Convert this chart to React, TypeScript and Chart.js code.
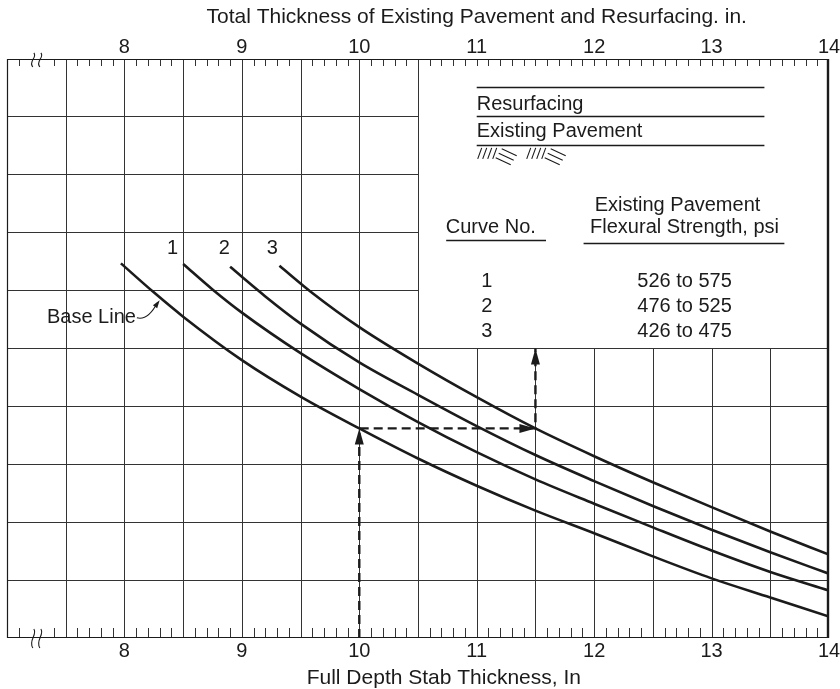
import React, { useEffect, useRef } from 'react';
import { Chart, registerables } from 'chart.js';

Chart.register(...registerables);

// ---------------- data ----------------
const xTickValues = [8, 9, 10, 11, 12, 13, 14];
const xRange = [7, 14];
const yRange = [0, 10];
const gridXValues = [7.5, 8, 8.5, 9, 9.5, 10, 10.5, 11, 11.5, 12, 12.5, 13, 13.5];
const gridYValues = [1, 2, 3, 4, 5, 6, 7, 8, 9];
const minorTickStep = 0.1;
const breakTicks = [7.2, 7.3];
const breakMarkX = [7.22, 7.28];

const baseX = [7.97, 8.25, 8.5, 9, 9.5, 10, 10.5, 11, 11.5, 12, 12.5, 13, 13.5, 14];
const baseY = [6.47, 5.97, 5.55, 4.8, 4.17, 3.62, 3.1, 2.63, 2.2, 1.81, 1.41, 1.03, 0.7, 0.37];

const curve1X = [8.5, 8.75, 9, 9.5, 10, 10.5, 11, 11.5, 12, 12.5, 13, 13.5, 14];
const curve1Y = [6.46, 6.02, 5.62, 4.92, 4.3, 3.73, 3.21, 2.74, 2.32, 1.91, 1.51, 1.14, 0.82];

const curve2X = [8.9, 9.2, 9.5, 10, 10.5, 11, 11.5, 12, 12.5, 13, 13.5, 14];
const curve2Y = [6.41, 5.9, 5.43, 4.76, 4.2, 3.66, 3.16, 2.71, 2.28, 1.87, 1.48, 1.11];

const curve3X = [9.32, 9.6, 10, 10.5, 11, 11.5, 12, 12.5, 13, 13.5, 14];
const curve3Y = [6.43, 5.96, 5.37, 4.74, 4.16, 3.62, 3.14, 2.69, 2.26, 1.84, 1.44];

const dashPathX = [10, 10, 11.5, 11.5];
const dashPathY = [0, 3.62, 3.62, 5];

const curveNumbers = ['1', '2', '3'];
const strengthRanges = ['526 to 575', '476 to 525', '426 to 475'];
const legendLayers = ['Resurfacing', 'Existing Pavement'];
const topAxisTitle = 'Total Thickness of Existing Pavement and Resurfacing. in.';
const bottomAxisTitle = 'Full Depth Stab Thickness, In';

// ---------------- layout (data-space anchors) ----------------
const BOX_FROM_X = 10.5;
const BOX_ABOVE_Y = 5;
const LEG = {
  left: 11.0,
  right: 13.45,
  linesY: [9.5, 9.0, 8.5],
  textY: [9.12, 8.65],
  headTopY: 7.38,
  headBotY: 6.99,
  col1X: 11.12,
  col2X: 12.77,
  curveUnderline: [10.74, 11.59, 6.87],
  flexUnderline: [11.91, 13.62, 6.82],
  rowY: [6.15, 5.72, 5.3],
};
const CURVE_LABEL_X = [8.41, 8.85, 9.26];
const CURVE_LABEL_Y = 6.73;
const BASE_LABEL = { x: 7.34, y: 5.53, tipX: 8.3 };
const TOP_TITLE_X = 11.0;
const BOTTOM_TITLE_X = 10.72;

const FONT = '"Liberation Sans", Arial, Helvetica, sans-serif';
const INK = '#1b1b1b';
const GRID = '#333333';

const pts = (xs: number[], ys: number[]) => xs.map((x, i) => ({ x, y: ys[i] }));

function arrowHead(ctx: CanvasRenderingContext2D, x1: number, y1: number, x2: number, y2: number, len: number, half: number) {
  const ang = Math.atan2(y2 - y1, x2 - x1);
  const c = Math.cos(ang), s = Math.sin(ang);
  const bx = x2 - len * c, by = y2 - len * s;
  ctx.beginPath();
  ctx.moveTo(x2, y2);
  ctx.lineTo(bx - half * s, by + half * c);
  ctx.lineTo(bx + half * s, by - half * c);
  ctx.closePath();
  ctx.fill();
}

const paperPlugin = {
  id: 'paper',
  beforeDatasetsDraw(chart: any) {
    const { ctx, chartArea: a } = chart;
    const X = (v: number) => chart.scales.x.getPixelForValue(v);
    const Y = (v: number) => chart.scales.y.getPixelForValue(v);
    const sx = (p: number) => Math.round(p) + 0.5;
    const sy = (p: number) => Math.floor(p) + 0.5;
    ctx.save();
    ctx.strokeStyle = GRID;
    ctx.lineWidth = 1;
    ctx.beginPath();
    const boxLeft = X(BOX_FROM_X);
    const boxBottom = Y(BOX_ABOVE_Y);
    for (const v of gridXValues) {
      const px = sx(X(v));
      const top = v > BOX_FROM_X ? boxBottom : a.top;
      ctx.moveTo(px, top);
      ctx.lineTo(px, a.bottom);
    }
    for (const u of gridYValues) {
      const py = sy(Y(u));
      const right = u > BOX_ABOVE_Y ? boxLeft : a.right;
      ctx.moveTo(a.left, py);
      ctx.lineTo(right, py);
    }
    ctx.stroke();

    // minor ticks
    ctx.beginPath();
    const n = Math.round((xRange[1] - xRange[0]) / minorTickStep);
    for (let i = 1; i < n; i++) {
      const v = xRange[0] + i * minorTickStep;
      if (breakTicks.some((b) => Math.abs(b - v) < 1e-6)) continue;
      const px = sx(X(v));
      ctx.moveTo(px, a.top);
      ctx.lineTo(px, a.top + 7);
      ctx.moveTo(px, a.bottom - 10);
      ctx.lineTo(px, a.bottom);
    }
    ctx.stroke();

    // border
    ctx.strokeStyle = INK;
    ctx.lineWidth = 1.2;
    ctx.beginPath();
    ctx.moveTo(a.left + 0.5, a.top + 0.5);
    ctx.lineTo(a.right, a.top + 0.5);
    ctx.moveTo(a.left + 0.5, a.top);
    ctx.lineTo(a.left + 0.5, a.bottom);
    ctx.moveTo(a.left, a.bottom - 0.5);
    ctx.lineTo(a.right, a.bottom - 0.5);
    ctx.stroke();
    ctx.lineWidth = 2.4;
    ctx.beginPath();
    ctx.moveTo(a.right - 1, a.top);
    ctx.lineTo(a.right - 1, a.bottom);
    ctx.stroke();

    // axis break marks
    ctx.lineWidth = 1.1;
    for (const bv of breakMarkX) {
      const px = X(bv);
      for (const [y0, y1] of [[a.top - 6, a.top + 8], [a.bottom - 9, a.bottom + 10]]) {
        ctx.beginPath();
        ctx.moveTo(px + 1, y0);
        ctx.bezierCurveTo(px + 5, y0 + (y1 - y0) * 0.3, px - 5, y0 + (y1 - y0) * 0.6, px, y1);
        ctx.stroke();
      }
    }
    ctx.restore();
  },
  afterDatasetsDraw(chart: any) {
    const { ctx, chartArea: a } = chart;
    const X = (v: number) => chart.scales.x.getPixelForValue(v);
    const Y = (v: number) => chart.scales.y.getPixelForValue(v);
    ctx.save();
    ctx.fillStyle = INK;
    ctx.strokeStyle = INK;

    // dashed path arrowheads
    const px = dashPathX.map(X);
    const py = dashPathY.map(Y);
    for (let i = 1; i < px.length; i++) {
      arrowHead(ctx, px[i - 1], py[i - 1], px[i], py[i], 16, 4.5);
    }

    ctx.font = `20px ${FONT}`;
    // legend layers
    ctx.lineWidth = 1.3;
    ctx.beginPath();
    for (const u of LEG.linesY) {
      const yy = Math.floor(Y(u)) + 0.5;
      ctx.moveTo(X(LEG.left), yy);
      ctx.lineTo(X(LEG.right), yy);
    }
    ctx.stroke();
    ctx.textAlign = 'left';
    ctx.textBaseline = 'alphabetic';
    legendLayers.forEach((t, i) => ctx.fillText(t, X(LEG.left), Y(LEG.textY[i])));

    // subgrade hatch
    const hx = X(LEG.left) + 1;
    const hy = Y(LEG.linesY[2]) + 2;
    ctx.lineWidth = 1.1;
    ctx.beginPath();
    for (const g of [0, 49]) {
      for (let i = 0; i < 4; i++) {
        ctx.moveTo(hx + g + i * 5, hy + 11);
        ctx.lineTo(hx + g + 4 + i * 5, hy);
      }
      for (let i = 0; i < 3; i++) {
        const ox = hx + g + 24 - i * 3;
        const oy = hy + 1 + i * 4.5;
        ctx.moveTo(ox, oy);
        ctx.lineTo(ox + 15, oy + 7);
      }
    }
    ctx.stroke();

    // table
    ctx.textAlign = 'center';
    ctx.fillText('Existing Pavement', X(12.71), Y(LEG.headTopY));
    ctx.fillText('Flexural Strength, psi', X(LEG.col2X), Y(LEG.headBotY));
    ctx.fillText('Curve No.', X(LEG.col1X), Y(LEG.headBotY));
    ctx.lineWidth = 1.3;
    ctx.beginPath();
    for (const [x0, x1, u] of [LEG.curveUnderline, LEG.flexUnderline]) {
      const yy = Math.floor(Y(u)) + 0.5;
      ctx.moveTo(X(x0), yy);
      ctx.lineTo(X(x1), yy);
    }
    ctx.stroke();
    ctx.textBaseline = 'middle';
    curveNumbers.forEach((c, i) => {
      ctx.fillText(c, X(LEG.col1X) - 4, Y(LEG.rowY[i]));
      ctx.fillText(strengthRanges[i], X(LEG.col2X), Y(LEG.rowY[i]));
    });

    // curve number labels
    curveNumbers.forEach((c, i) => ctx.fillText(c, X(CURVE_LABEL_X[i]), Y(CURVE_LABEL_Y)));

    // Base Line label with arrow (tip lands on the base curve)
    const meta = chart.getDatasetMeta(0);
    let tx = X(BASE_LABEL.tipX);
    let ty = Y(BASE_LABEL.y);
    {
      const i = baseX.findIndex((v) => v > BASE_LABEL.tipX);
      if (i > 0) {
        const p0 = meta.data[i - 1], p1 = meta.data[i];
        const t = (tx - p0.x) / (p1.x - p0.x);
        ty = p0.y + t * (p1.y - p0.y) + 3;
      }
    }
    ctx.textAlign = 'left';
    const bx = X(BASE_LABEL.x);
    const by = Y(BASE_LABEL.y);
    ctx.fillText('Base Line', bx, by);
    const w = ctx.measureText('Base Line').width;
    const sxp = bx + w + 1;
    const cx = sxp + 11, cy = by + 3;
    ctx.lineWidth = 1.1;
    ctx.beginPath();
    ctx.moveTo(sxp, by);
    ctx.quadraticCurveTo(cx, cy, tx - 2, ty + 2);
    ctx.stroke();
    arrowHead(ctx, cx, cy - 4, tx, ty, 8, 2.6);

    // axis titles
    ctx.font = `21px ${FONT}`;
    ctx.textAlign = 'center';
    ctx.textBaseline = 'alphabetic';
    ctx.fillText(topAxisTitle, X(TOP_TITLE_X), a.top - 36);
    ctx.fillText(bottomAxisTitle, X(BOTTOM_TITLE_X), a.bottom + 46);
    ctx.restore();
  },
};

const curveStyle = {
  borderColor: INK,
  borderWidth: 2.6,
  pointRadius: 0,
  fill: false,
  cubicInterpolationMode: 'monotone' as const,
};

export default function App() {
  const ref = useRef<HTMLCanvasElement | null>(null);
  useEffect(() => {
    if (!ref.current) return;
    const tickFont = { family: FONT, size: 20, lineHeight: 1 };
    const setTicks = (scale: any) => {
      scale.ticks = xTickValues.map((value) => ({ value }));
    };
    const chart = new Chart(ref.current, {
      type: 'line',
      data: {
        datasets: [
          { label: 'Base Line', data: pts(baseX, baseY), ...curveStyle },
          { label: '1', data: pts(curve1X, curve1Y), ...curveStyle },
          { label: '2', data: pts(curve2X, curve2Y), ...curveStyle },
          { label: '3', data: pts(curve3X, curve3Y), ...curveStyle },
          {
            label: 'example',
            data: pts(dashPathX, dashPathY),
            borderColor: INK,
            borderWidth: 2.4,
            borderDash: [9, 5],
            pointRadius: 0,
            tension: 0,
            fill: false,
          },
        ],
      },
      options: {
        responsive: false,
        animation: false,
        events: [],
        layout: { padding: { left: 7, right: 11, top: 0, bottom: 0 } },
        plugins: { legend: { display: false }, tooltip: { enabled: false } },
        scales: {
          x: {
            type: 'linear',
            position: 'bottom',
            min: xRange[0],
            max: xRange[1],
            afterBuildTicks: setTicks,
            afterFit: (s: any) => {
              s.height = 51;
              s.paddingLeft = 0;
              s.paddingRight = 0;
            },
            ticks: { font: tickFont, color: INK, padding: 3, autoSkip: false, maxRotation: 0 },
            grid: { display: false, drawTicks: false },
            border: { display: false },
          },
          x2: {
            type: 'linear',
            axis: 'x',
            position: 'top',
            min: xRange[0],
            max: xRange[1],
            afterBuildTicks: setTicks,
            afterFit: (s: any) => {
              s.height = 59;
              s.paddingLeft = 0;
              s.paddingRight = 0;
            },
            ticks: { font: tickFont, color: INK, padding: 2, autoSkip: false, maxRotation: 0 },
            grid: { display: false, drawTicks: false },
            border: { display: false },
          },
          y: { type: 'linear', display: false, min: yRange[0], max: yRange[1] },
        },
      } as any,
      plugins: [paperPlugin],
    });
    return () => chart.destroy();
  }, []);
  return (
    <div style={{ position: 'absolute', left: 0, top: 0, width: 840, height: 689, background: '#fff' }}>
      <canvas ref={ref} width={840} height={689} style={{ display: 'block' }} />
    </div>
  );
}
